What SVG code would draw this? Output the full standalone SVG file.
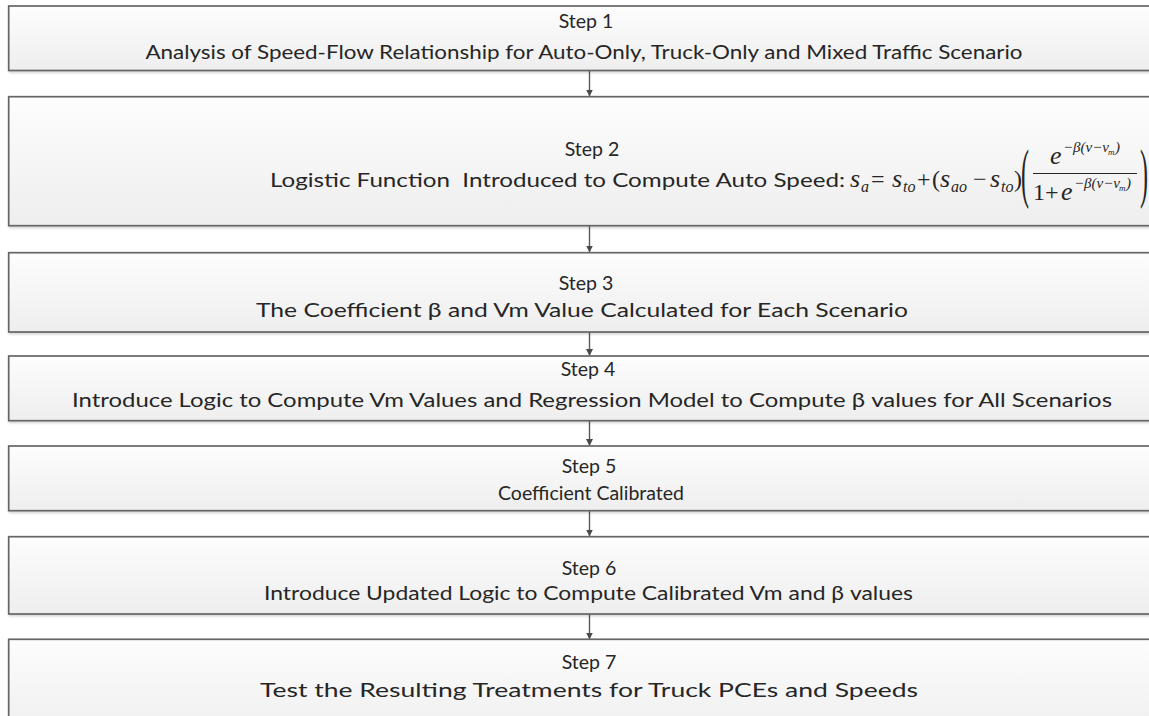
<svg xmlns="http://www.w3.org/2000/svg" width="1149" height="716" viewBox="0 0 1149 716">
  <style>
    .box { fill: url(#boxFill); stroke: #666666; stroke-width: 1.7; }
    .lbl { font-family: "Lato", "Liberation Sans", sans-serif; font-size: 19.5px; fill: #262626; text-anchor: middle; }
    .conn { stroke: #5a5a5a; stroke-width: 1.4; fill: none; marker-end: url(#arrow); }
    .m { font-family: "Liberation Serif", serif; font-style: italic; fill: #262626; font-size: 26px; }
    .mu { font-family: "Liberation Serif", serif; fill: #262626; font-size: 24px; }
    .ms { font-family: "Liberation Serif", serif; font-style: italic; fill: #262626; font-size: 16px; }
    .mx { font-family: "Liberation Serif", serif; font-style: italic; fill: #262626; font-size: 15px; }
    .mxs { font-family: "Liberation Serif", serif; font-style: italic; fill: #262626; font-size: 9px; }
  </style>
  <defs>
    <linearGradient id="boxFill" x1="0" y1="0" x2="0" y2="1">
      <stop offset="0" stop-color="#fdfdfd"/>
      <stop offset="1" stop-color="#eeeeee"/>
    </linearGradient>
    <filter id="shadow" x="-2%" y="-10%" width="104%" height="130%">
      <feDropShadow dx="1" dy="1.5" stdDeviation="1" flood-color="#000" flood-opacity="0.18"/>
    </filter>
    <marker id="arrow" markerWidth="7" markerHeight="9" refX="6.5" refY="4.5" orient="auto" markerUnits="userSpaceOnUse">
      <path d="M0,1 L7,4.5 L0,8 Z" fill="#4a4a4a"/>
    </marker>
  </defs>

  <rect width="1149" height="716" fill="#ffffff"/>

  <g id="connectors">
    <line class="conn" x1="589.5" y1="71" x2="589.5" y2="96"/>
    <line class="conn" x1="589.5" y1="226" x2="589.5" y2="252"/>
    <line class="conn" x1="589.5" y1="332" x2="589.5" y2="355.5"/>
    <line class="conn" x1="589.5" y1="421" x2="589.5" y2="445.5"/>
    <line class="conn" x1="589.5" y1="511" x2="589.5" y2="536"/>
    <line class="conn" x1="589.5" y1="614" x2="589.5" y2="639"/>
  </g>

  <g id="step1">
    <rect class="box" filter="url(#shadow)" x="8.7" y="6" width="1170" height="64.5"/>
    <text class="lbl" x="586" y="28">Step 1</text>
    <text class="lbl" x="584" y="59" textLength="877" lengthAdjust="spacingAndGlyphs">Analysis of Speed-Flow Relationship for Auto-Only, Truck-Only and Mixed Traffic Scenario</text>
  </g>

  <g id="step2">
    <rect class="box" filter="url(#shadow)" x="8.7" y="96.7" width="1170" height="129"/>
    <text class="lbl" x="592" y="156">Step 2</text>
    <text class="lbl" x="557.5" y="187" textLength="575" lengthAdjust="spacingAndGlyphs">Logistic Function&#160; Introduced to Compute Auto Speed:</text>
    <g id="formula">
      <text class="m" x="850" y="187">s</text>
      <text class="ms" x="861" y="192">a</text>
      <text class="mu" x="871" y="187">=</text>
      <text class="m" x="892" y="187">s</text>
      <text class="ms" x="903" y="192">to</text>
      <text class="mu" x="917" y="187">+</text>
      <text class="mu" x="932" y="187">(</text>
      <text class="m" x="940" y="187">s</text>
      <text class="ms" x="951" y="192">ao</text>
      <text class="mu" x="973" y="187">−</text>
      <text class="m" x="990" y="187">s</text>
      <text class="ms" x="1001" y="192">to</text>
      <text class="mu" x="1014" y="187">)</text>
      <text class="mu" transform="translate(1021,195) scale(1,2.75)" font-size="28">(</text>
      <text class="m" x="1050" y="164">e</text>
      <text class="mx" x="1063" y="152">−β(v−v</text>
      <text class="mxs" x="1108" y="155">m</text>
      <text class="mx" x="1115" y="152">)</text>
      <line x1="1033" y1="173.5" x2="1137" y2="173.5" stroke="#262626" stroke-width="1.2"/>
      <text class="mu" x="1033" y="200">1</text>
      <text class="mu" x="1045" y="200">+</text>
      <text class="m" x="1061" y="200">e</text>
      <text class="mx" x="1074" y="188">−β(v−v</text>
      <text class="mxs" x="1119" y="191">m</text>
      <text class="mx" x="1126" y="188">)</text>
      <text class="mu" transform="translate(1140,195) scale(1,2.75)" font-size="28">)</text>
    </g>
  </g>

  <g id="step3">
    <rect class="box" filter="url(#shadow)" x="8.7" y="252.7" width="1170" height="79.3"/>
    <text class="lbl" x="586" y="290">Step 3</text>
    <text class="lbl" x="582" y="317" textLength="652" lengthAdjust="spacingAndGlyphs">The Coefficient β and Vm Value Calculated for Each Scenario</text>
  </g>

  <g id="step4">
    <rect class="box" filter="url(#shadow)" x="8.7" y="356" width="1170" height="64.7"/>
    <text class="lbl" x="588" y="376">Step 4</text>
    <text class="lbl" x="592" y="407" textLength="1040" lengthAdjust="spacingAndGlyphs">Introduce Logic to Compute Vm Values and Regression Model to Compute β values for All Scenarios</text>
  </g>

  <g id="step5">
    <rect class="box" filter="url(#shadow)" x="8.7" y="446" width="1170" height="64.7"/>
    <text class="lbl" x="589" y="473">Step 5</text>
    <text class="lbl" x="591" y="500">Coefficient Calibrated</text>
  </g>

  <g id="step6">
    <rect class="box" filter="url(#shadow)" x="8.7" y="536.7" width="1170" height="77.3"/>
    <text class="lbl" x="589" y="575">Step 6</text>
    <text class="lbl" x="588.5" y="600" textLength="649" lengthAdjust="spacingAndGlyphs">Introduce Updated Logic to Compute Calibrated Vm and β values</text>
  </g>

  <g id="step7">
    <rect class="box" filter="url(#shadow)" x="8.7" y="639.3" width="1170" height="100"/>
    <text class="lbl" x="589" y="669">Step 7</text>
    <text class="lbl" x="589" y="697" textLength="658" lengthAdjust="spacingAndGlyphs">Test the Resulting Treatments for Truck PCEs and Speeds</text>
  </g>
</svg>
